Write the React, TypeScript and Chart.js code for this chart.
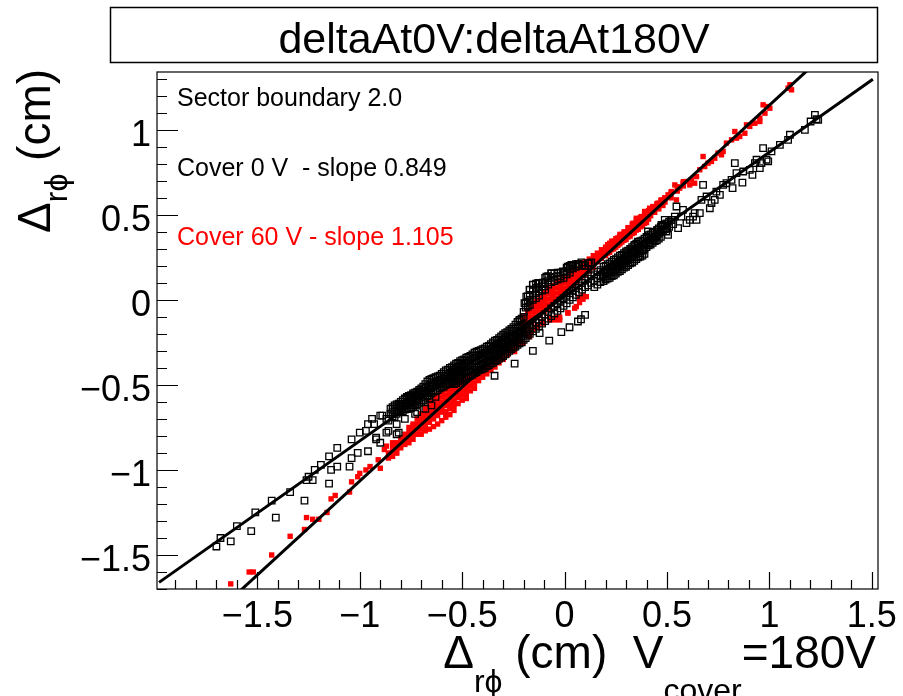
import React, { useEffect, useRef } from "react";
import { Chart, registerables } from "chart.js";

Chart.register(...registerables);

// ---------- axis ranges & ticks ----------
const xMin = -1.99;
const xMax = 1.53;
const yMin = -1.7;
const yMax = 1.34;
const xMajorTicks = [-1.5, -1, -0.5, 0, 0.5, 1, 1.5];
const xTickLabels = ["\u22121.5", "\u22121", "\u22120.5", "0", "0.5", "1", "1.5"];
const yMajorTicks = [-1.5, -1, -0.5, 0, 0.5, 1];
const yTickLabels = ["\u22121.5", "\u22121", "\u22120.5", "0", "0.5", "1"];
const minorStep = 0.1;

// ---------- texts ----------
const titleText = "deltaAt0V:deltaAt180V";
const noteLines = ["Sector boundary 2.0", "Cover 0 V  - slope 0.849", "Cover 60 V - slope 1.105"];
const noteColors = ["#000000", "#000000", "#ff0000"];

// ---------- fits ----------
const fit0 = { slope: 0.849, intercept: 0.02, from: -1.98, to: 1.505 };
const fit60 = { slope: 1.105, intercept: 0.04, from: -1.62, to: 1.22 };

// ---------- Cover 0 V (black open squares) ----------
const cover0Tail: number[][] = [
  [-1.70, -1.45], [-1.68, -1.40], [-1.63, -1.42], [-1.60, -1.33], [-1.53, -1.36], [-1.51, -1.25],
  [-1.43, -1.18], [-1.41, -1.28], [-1.34, -1.13], [-1.27, -1.18], [-1.26, -1.06], [-1.25, -1.04],
  [-1.23, -1.06], [-1.22, -1.00], [-1.19, -0.97], [-1.15, -0.92], [-1.15, -1.08], [-1.14, -1.00],
  [-1.11, -0.87], [-1.11, -0.98], [-1.05, -0.98], [-1.04, -0.82], [-1.04, -0.93], [-1.01, -0.90],
  [-1.00, -0.78], [-0.97, -0.77], [-0.96, -0.89], [-0.96, -0.73], [-0.94, -0.70], [-0.93, -0.73],
  [-0.92, -0.82], [-0.92, -0.81], [-0.90, -0.84], [-0.90, -0.68], [-0.89, -0.68], [-0.87, -0.78],
  [-0.87, -0.70], [-0.86, -0.71], [-0.86, -0.77], [-0.82, -0.79], [-0.82, -0.73], [-0.81, -0.78],
  [-0.82, -0.63], [-0.81, -0.62], [-0.78, -0.70], [-0.78, -0.58], [-0.77, -0.57], [-0.74, -0.56],
  [-0.73, -0.67], [-0.73, -0.57], [-0.72, -0.66], [-0.71, -0.56], [-0.71, -0.54], [-0.69, -0.55],
  [-0.69, -0.59], [-0.68, -0.64], [-0.66, -0.51], [-0.66, -0.58], [-0.65, -0.62], [-0.63, -0.57],
];
const cover0BandCols: number[][] = [
  [-0.85, -0.64, -0.67], [-0.83, -0.62, -0.65, -0.69], [-0.81, -0.61, -0.63, -0.66],
  [-0.79, -0.59, -0.62, -0.655], [-0.77, -0.575, -0.60, -0.64], [-0.75, -0.56, -0.585, -0.61, -0.635],
  [-0.73, -0.545, -0.57, -0.60, -0.62], [-0.71, -0.53, -0.555, -0.58, -0.605],
  [-0.69, -0.51, -0.535, -0.56, -0.59], [-0.67, -0.48, -0.51, -0.54, -0.565],
  [-0.65, -0.465, -0.49, -0.52, -0.55], [-0.63, -0.455, -0.48, -0.505, -0.535],
  [-0.61, -0.445, -0.47, -0.495, -0.52], [-0.59, -0.425, -0.45, -0.48, -0.51],
  [-0.57, -0.41, -0.435, -0.465, -0.495], [-0.55, -0.395, -0.42, -0.45, -0.48],
  [-0.53, -0.375, -0.40, -0.43, -0.465, -0.49], [-0.51, -0.36, -0.385, -0.415, -0.445, -0.475],
  [-0.49, -0.35, -0.375, -0.40, -0.43, -0.46], [-0.47, -0.335, -0.36, -0.39, -0.42, -0.45],
  [-0.45, -0.32, -0.345, -0.375, -0.41, -0.44], [-0.43, -0.305, -0.33, -0.36, -0.395, -0.425],
  [-0.41, -0.295, -0.32, -0.35, -0.38, -0.41], [-0.39, -0.285, -0.31, -0.34, -0.37, -0.40],
  [-0.37, -0.27, -0.295, -0.325, -0.355, -0.385], [-0.35, -0.25, -0.28, -0.31, -0.34, -0.37],
  [-0.33, -0.235, -0.26, -0.29, -0.32, -0.355], [-0.31, -0.215, -0.245, -0.275, -0.305, -0.34],
  [-0.29, -0.195, -0.225, -0.255, -0.29, -0.32], [-0.27, -0.18, -0.21, -0.24, -0.27, -0.30],
  [-0.25, -0.16, -0.19, -0.22, -0.25, -0.28], [-0.23, -0.13, -0.165, -0.20, -0.235, -0.265],
  [-0.21, -0.11, -0.145, -0.18, -0.215, -0.25],
];
const cover0BandCols2: number[][] = [
  [-0.84, -0.63, -0.66, -0.685], [-0.82, -0.615, -0.64, -0.67], [-0.80, -0.60, -0.625, -0.65],
  [-0.78, -0.585, -0.61, -0.645], [-0.76, -0.565, -0.59, -0.62, -0.64], [-0.74, -0.55, -0.575, -0.605, -0.63],
  [-0.72, -0.54, -0.565, -0.59, -0.615], [-0.70, -0.52, -0.545, -0.57, -0.60],
  [-0.68, -0.495, -0.52, -0.55, -0.575], [-0.66, -0.47, -0.50, -0.53, -0.56],
  [-0.64, -0.46, -0.485, -0.51, -0.54], [-0.62, -0.45, -0.475, -0.50, -0.53],
  [-0.60, -0.435, -0.46, -0.49, -0.515], [-0.58, -0.415, -0.445, -0.475, -0.50],
  [-0.56, -0.40, -0.43, -0.46, -0.49], [-0.54, -0.385, -0.41, -0.44, -0.47, -0.495],
  [-0.52, -0.37, -0.395, -0.42, -0.455, -0.48], [-0.50, -0.355, -0.38, -0.41, -0.44, -0.465],
  [-0.48, -0.34, -0.37, -0.395, -0.425, -0.455], [-0.46, -0.33, -0.355, -0.385, -0.415, -0.445],
  [-0.44, -0.31, -0.34, -0.37, -0.40, -0.43], [-0.42, -0.30, -0.325, -0.355, -0.39, -0.415],
  [-0.40, -0.29, -0.315, -0.345, -0.375, -0.405], [-0.38, -0.275, -0.30, -0.33, -0.36, -0.39],
  [-0.36, -0.26, -0.29, -0.32, -0.35, -0.375], [-0.34, -0.24, -0.27, -0.30, -0.33, -0.36],
  [-0.32, -0.225, -0.255, -0.285, -0.315, -0.345], [-0.30, -0.205, -0.235, -0.265, -0.30, -0.33],
  [-0.28, -0.19, -0.215, -0.25, -0.28, -0.31], [-0.26, -0.17, -0.20, -0.23, -0.26, -0.29],
  [-0.24, -0.145, -0.18, -0.21, -0.245, -0.275], [-0.22, -0.12, -0.155, -0.19, -0.225, -0.255],
];
const cover0CenterCols: number[][] = [
  [-0.20, -0.07, -0.10, -0.20, -0.235], [-0.19, -0.02, -0.045, -0.19, -0.225],
  [-0.18, 0.02, -0.01, -0.04, -0.175, -0.21], [-0.17, 0.06, 0.03, 0.0, -0.03, -0.165, -0.20],
  [-0.155, 0.09, 0.06, 0.03, 0.0, -0.15, -0.185], [-0.14, 0.095, 0.07, 0.04, 0.01, -0.135, -0.17],
  [-0.125, 0.10, 0.075, 0.05, 0.025, -0.12, -0.155], [-0.11, 0.10, 0.08, 0.055, -0.10, -0.14],
  [-0.095, 0.13, 0.105, 0.08, 0.06, -0.085, -0.125], [-0.08, 0.14, 0.115, 0.09, -0.07, -0.11],
  [-0.065, 0.155, 0.13, 0.105, -0.05, -0.095], [-0.05, 0.155, 0.135, 0.11, -0.035, -0.08],
  [-0.035, 0.16, 0.14, 0.12, -0.02, -0.065], [-0.02, 0.16, 0.14, 0.125, -0.005, -0.05],
  [-0.005, 0.165, 0.15, 0.13, 0.01, -0.035], [0.01, 0.19, 0.17, 0.15, 0.025, -0.02],
  [0.025, 0.20, 0.18, 0.16, 0.04, 0.0], [0.04, 0.205, 0.185, 0.055, 0.015],
  [0.055, 0.21, 0.195, 0.07, 0.03], [0.07, 0.21, 0.20, 0.085, 0.045], [0.085, 0.205, 0.10, 0.06],
  [0.10, 0.20, 0.115, 0.075], [0.115, 0.215, 0.125, 0.085], [0.13, 0.22, 0.14, 0.10],
  [0.145, 0.15, 0.11, 0.075], [0.16, 0.165, 0.125, 0.09], [0.175, 0.175, 0.14, 0.105],
];
const cover0RightCols: number[][] = [
  [0.19, 0.195, 0.165, 0.135, 0.11], [0.21, 0.21, 0.18, 0.15, 0.125], [0.23, 0.225, 0.195, 0.165, 0.14],
  [0.25, 0.24, 0.21, 0.18, 0.155], [0.27, 0.26, 0.23, 0.20, 0.17], [0.29, 0.275, 0.245, 0.215, 0.19],
  [0.31, 0.29, 0.26, 0.235, 0.205], [0.33, 0.31, 0.28, 0.25, 0.22], [0.35, 0.33, 0.30, 0.27, 0.24],
  [0.37, 0.345, 0.315, 0.285, 0.255], [0.39, 0.36, 0.33, 0.30, 0.27], [0.41, 0.38, 0.35, 0.32],
  [0.43, 0.395, 0.365, 0.335], [0.45, 0.41, 0.38, 0.35], [0.47, 0.43, 0.40, 0.37],
  [0.49, 0.445, 0.415], [0.51, 0.46, 0.43], [0.53, 0.47, 0.445],
];
const cover0RightCols2: number[][] = [
  [0.20, 0.20, 0.17, 0.14, 0.12], [0.22, 0.215, 0.19, 0.16, 0.13], [0.24, 0.235, 0.205, 0.175, 0.145],
  [0.26, 0.25, 0.22, 0.19, 0.165], [0.28, 0.265, 0.235, 0.205, 0.18], [0.30, 0.285, 0.255, 0.225, 0.195],
  [0.32, 0.30, 0.27, 0.24, 0.215], [0.34, 0.32, 0.29, 0.26, 0.23], [0.36, 0.34, 0.305, 0.275, 0.25],
  [0.38, 0.35, 0.32, 0.29, 0.26], [0.40, 0.37, 0.34, 0.31], [0.42, 0.385, 0.355, 0.325],
  [0.44, 0.40, 0.37, 0.345], [0.46, 0.42, 0.39, 0.36], [0.48, 0.435, 0.405], [0.50, 0.45, 0.42],
];
const cover0RightPts: number[][] = [
  [0.187, 0.137], [0.228, 0.167], [0.253, 0.196], [0.285, 0.235], [0.301, 0.275], [0.326, 0.294],
  [0.342, 0.324], [0.358, 0.343], [0.367, 0.275], [0.383, 0.294], [0.407, 0.402], [0.415, 0.333],
  [0.432, 0.353], [0.448, 0.373], [0.456, 0.412], [0.473, 0.441], [0.489, 0.471], [0.497, 0.402],
  [0.505, 0.382], [0.521, 0.471], [0.538, 0.490], [0.546, 0.549], [0.554, 0.422], [0.570, 0.490],
  [0.578, 0.529], [0.595, 0.451], [0.611, 0.471], [0.627, 0.490], [0.635, 0.510], [0.644, 0.471],
  [0.660, 0.510], [0.668, 0.588], [0.676, 0.676], [0.693, 0.608], [0.709, 0.539], [0.717, 0.569],
  [0.733, 0.588], [0.741, 0.637], [0.758, 0.618], [0.774, 0.676], [0.790, 0.686], [0.815, 0.706],
  [0.820, 0.657], [0.831, 0.804], [0.839, 0.745], [0.868, 0.690], [0.872, 0.755], [0.904, 0.765],
  [0.917, 0.735], [0.929, 0.804], [0.937, 0.824], [0.953, 0.775], [0.961, 0.804], [0.969, 0.892],
  [0.986, 0.824], [0.994, 0.814], [1.010, 0.873], [1.051, 0.912], [1.091, 0.941], [1.100, 0.971],
  [1.173, 1.000], [1.201, 1.049], [1.222, 1.088], [1.230, 1.063], [1.238, 1.059],
];
const cover0Outliers: number[][] = [
  [0.10, -0.088], [0.08, -0.114], [0.065, -0.127], [0.024, -0.161], [-0.016, -0.19], [-0.075, -0.24],
  [-0.122, -0.196], [-0.155, -0.30], [-0.244, -0.375], [-0.342, -0.446], [-0.196, -0.019],
  [-0.187, 0.019], [-0.171, 0.059], [-0.155, 0.088], [-0.13, 0.098], [-0.106, 0.102], [-0.089, 0.137],
  [-0.065, 0.157], [-0.033, 0.157], [-0.008, 0.167], [0.016, 0.196], [0.041, 0.206], [0.065, 0.212],
  [0.098, 0.2], [0.122, 0.216], [-0.22, -0.118], [0.033, 0.206], [0.082, 0.22],
];

// ---------- Cover 60 V (red filled squares) ----------
const cover60Tail: number[][] = [
  [-1.63, -1.67], [-1.54, -1.60], [-1.52, -1.60], [-1.43, -1.50], [-1.34, -1.39], [-1.27, -1.35],
  [-1.26, -1.28], [-1.23, -1.29], [-1.20, -1.29], [-1.16, -1.25], [-1.14, -1.17], [-1.12, -1.15],
  [-1.05, -1.13], [-1.04, -1.07], [-1.01, -1.04], [-1.00, -1.02], [-0.97, -1.00], [-0.95, -0.98],
  [-0.91, -0.94], [-0.90, -0.99], [-0.88, -0.88], [-0.87, -0.86], [-0.84, -0.84], [-0.82, -0.90],
  [-0.79, -0.81], [-0.78, -0.83], [-0.74, -0.74], [-0.73, -0.79], [-0.71, -0.72], [-0.69, -0.69],
  [-0.68, -0.75], [-0.65, -0.68], [-0.63, -0.66], [-0.60, -0.65], [-0.58, -0.67], [-0.56, -0.63],
  [-0.54, -0.60], [-0.51, -0.56], [-0.50, -0.53],
];
const cover60BandCols: number[][] = [
  [-0.86, -0.90, -0.93], [-0.84, -0.86, -0.89, -0.92], [-0.82, -0.84, -0.87, -0.90],
  [-0.80, -0.81, -0.84, -0.87], [-0.78, -0.79, -0.82, -0.85], [-0.76, -0.75, -0.78, -0.81, -0.84],
  [-0.74, -0.73, -0.76, -0.79, -0.82], [-0.72, -0.70, -0.73, -0.76, -0.79],
  [-0.70, -0.67, -0.70, -0.73, -0.76, -0.79], [-0.68, -0.64, -0.67, -0.70, -0.73, -0.77],
  [-0.66, -0.60, -0.63, -0.66, -0.69, -0.72, -0.76], [-0.64, -0.58, -0.61, -0.64, -0.67, -0.70, -0.745],
  [-0.62, -0.56, -0.59, -0.62, -0.65, -0.68, -0.73], [-0.60, -0.54, -0.57, -0.60, -0.63, -0.66, -0.71],
  [-0.58, -0.53, -0.56, -0.59, -0.62, -0.655, -0.69], [-0.56, -0.515, -0.545, -0.575, -0.605, -0.64, -0.675],
  [-0.54, -0.50, -0.53, -0.56, -0.59, -0.62, -0.65], [-0.52, -0.485, -0.515, -0.545, -0.575, -0.61],
  [-0.50, -0.47, -0.50, -0.53, -0.56, -0.59], [-0.48, -0.46, -0.49, -0.52, -0.55, -0.58],
  [-0.46, -0.445, -0.475, -0.505, -0.535], [-0.44, -0.43, -0.46, -0.49, -0.52],
  [-0.42, -0.415, -0.445, -0.475], [-0.40, -0.40, -0.43, -0.455], [-0.38, -0.385, -0.41, -0.435],
  [-0.36, -0.365, -0.39, -0.415], [-0.34, -0.345, -0.37, -0.395], [-0.32, -0.32, -0.345, -0.37],
  [-0.30, -0.30, -0.325, -0.35], [-0.28, -0.275, -0.30, -0.325], [-0.26, -0.25, -0.275, -0.30],
  [-0.24, -0.225, -0.25, -0.275], [-0.22, -0.20, -0.225, -0.25],
];
const cover60CenterCols: number[][] = [
  [-0.20, -0.10, -0.13, -0.16, -0.185], [-0.18, -0.07, -0.10, -0.13, -0.16],
  [-0.16, -0.04, -0.07, -0.10, -0.13], [-0.14, -0.01, -0.04, -0.07, -0.10],
  [-0.12, 0.02, -0.01, -0.04, -0.07, -0.09], [-0.10, 0.045, 0.015, -0.015, -0.045, -0.07],
  [-0.08, 0.065, 0.035, 0.005, -0.025, -0.05], [-0.06, 0.085, 0.055, 0.025, -0.005, -0.025],
  [-0.04, 0.10, 0.07, 0.04, 0.01], [-0.02, 0.115, 0.085, 0.055, 0.025], [0.00, 0.13, 0.10, 0.07, 0.045],
  [0.02, 0.15, 0.12, 0.09, 0.065], [0.04, 0.165, 0.135, 0.11, 0.085], [0.06, 0.18, 0.155, 0.13, 0.105],
  [0.08, 0.20, 0.175, 0.15, 0.13], [0.10, 0.225, 0.20, 0.175, 0.15], [0.12, 0.24, 0.215, 0.19, 0.17],
  [0.14, 0.26, 0.235, 0.21, 0.19], [0.16, 0.275, 0.25, 0.225], [0.18, 0.295, 0.27, 0.245],
];
const cover60RightCols: number[][] = [
  [0.20, 0.31, 0.285, 0.26], [0.22, 0.33, 0.305, 0.28], [0.24, 0.345, 0.32, 0.30],
  [0.26, 0.365, 0.34, 0.32], [0.28, 0.385, 0.36, 0.34], [0.30, 0.40, 0.375, 0.355],
  [0.32, 0.42, 0.395, 0.375], [0.34, 0.445, 0.42, 0.395], [0.36, 0.465, 0.44, 0.415],
  [0.38, 0.48, 0.455, 0.435], [0.40, 0.50, 0.475, 0.455], [0.42, 0.52, 0.495], [0.44, 0.54, 0.515],
  [0.46, 0.56, 0.535], [0.48, 0.58, 0.555],
];
const cover60RightCols2: number[][] = [
  [0.21, 0.325, 0.30, 0.275], [0.23, 0.345, 0.32, 0.295], [0.25, 0.36, 0.335, 0.31],
  [0.27, 0.385, 0.36, 0.33], [0.29, 0.40, 0.375, 0.35], [0.31, 0.425, 0.40, 0.37],
  [0.33, 0.445, 0.42, 0.39], [0.35, 0.47, 0.44, 0.41], [0.37, 0.485, 0.46, 0.43],
  [0.39, 0.505, 0.48, 0.45], [0.41, 0.525, 0.50, 0.475], [0.43, 0.545, 0.52], [0.45, 0.565, 0.54],
  [0.47, 0.585, 0.56], [0.49, 0.60, 0.575], [0.52, 0.63, 0.60], [0.55, 0.665, 0.64], [0.58, 0.695, 0.67],
];
const cover60RightPts: number[][] = [
  [0.179, 0.255], [0.204, 0.284], [0.220, 0.333], [0.244, 0.343], [0.269, 0.373], [0.293, 0.392],
  [0.310, 0.422], [0.334, 0.451], [0.350, 0.480], [0.375, 0.490], [0.391, 0.520], [0.415, 0.539],
  [0.432, 0.549], [0.456, 0.569], [0.473, 0.588], [0.489, 0.598], [0.505, 0.618], [0.521, 0.637],
  [0.538, 0.676], [0.546, 0.588], [0.562, 0.657], [0.578, 0.686], [0.595, 0.696], [0.611, 0.676],
  [0.619, 0.706], [0.635, 0.686], [0.644, 0.725], [0.660, 0.765], [0.676, 0.843], [0.684, 0.784],
  [0.700, 0.804], [0.717, 0.814], [0.733, 0.833], [0.749, 0.863], [0.766, 0.853], [0.774, 0.873],
  [0.790, 0.922], [0.815, 0.941], [0.831, 0.990], [0.839, 0.951], [0.855, 0.961], [0.880, 0.980],
  [0.904, 1.020], [0.929, 1.039], [0.953, 1.049], [0.969, 1.147], [0.986, 1.137], [1.002, 1.127],
  [1.100, 1.265], [1.091, 1.245], [1.108, 1.235], [0.888, 1.029], [0.920, 1.039], [0.953, 1.069],
  [0.978, 1.098],
];
const cover60Outliers: number[][] = [
  [0.106, 0.019], [0.09, 0.004], [0.073, -0.016], [0.057, -0.039], [0.016, -0.078], [-0.024, -0.118],
  [-0.041, -0.104], [-0.073, -0.118], [-0.106, -0.127], [-0.13, -0.147], [-0.155, -0.176],
  [-0.171, -0.216], [-0.204, -0.255], [-0.236, -0.275], [0.09, 0.024], [0.073, 0.01], [0.049, -0.049],
  [0.016, -0.075], [-0.024, -0.102], [-0.049, -0.118], [-0.073, -0.108], [-0.106, -0.137],
  [-0.138, -0.161], [-0.163, -0.186], [-0.179, -0.206], [-0.236, -0.259], [-0.244, -0.304],
  [-0.277, -0.271],
];

// ---------- helpers ----------
const FONT = "'Liberation Sans', Arial, Helvetica, 'DejaVu Sans', sans-serif";
const pairs = (arr: number[][]) => arr.map(([x, y]) => ({ x, y }));
const cols = (arr: number[][]) => arr.flatMap(([x, ...ys]) => ys.map((y) => ({ x, y })));
const fitPoints = (f: { slope: number; intercept: number; from: number; to: number }) => [
  { x: f.from, y: f.slope * f.from + f.intercept },
  { x: f.to, y: f.slope * f.to + f.intercept },
];

type Seg = { t: string; size: number; dy?: number };
function segWidth(ctx: CanvasRenderingContext2D, segs: Seg[]) {
  let w = 0;
  for (const s of segs) {
    ctx.font = `${s.size}px ${FONT}`;
    w += ctx.measureText(s.t).width;
  }
  return w;
}
function drawSegs(ctx: CanvasRenderingContext2D, segs: Seg[], x: number, y: number) {
  let cx = x;
  for (const s of segs) {
    ctx.font = `${s.size}px ${FONT}`;
    ctx.fillText(s.t, cx, y + (s.dy || 0));
    cx += ctx.measureText(s.t).width;
  }
}

const rootAxes = {
  id: "rootAxes",
  afterDraw(chart: any) {
    const ctx: CanvasRenderingContext2D = chart.ctx;
    const { left, right, top, bottom } = chart.chartArea;
    const xs = chart.scales.x;
    const ys = chart.scales.y;
    ctx.save();
    ctx.fillStyle = "#000";
    ctx.strokeStyle = "#000";

    // frame
    ctx.lineWidth = 1.2;
    ctx.strokeRect(left, top, right - left, bottom - top);

    // ticks (inward, ROOT style)
    ctx.lineWidth = 1.2;
    ctx.beginPath();
    for (let i = Math.ceil(xMin / minorStep); i <= Math.floor(xMax / minorStep); i++) {
      const v = i * minorStep;
      const px = Math.round(xs.getPixelForValue(v)) + 0.5;
      const major = i % 5 === 0;
      ctx.moveTo(px, bottom);
      ctx.lineTo(px, bottom - (major ? 17 : 9));
    }
    for (let i = Math.ceil(yMin / minorStep); i <= Math.floor(yMax / minorStep); i++) {
      const v = i * minorStep;
      const py = Math.round(ys.getPixelForValue(v)) + 0.5;
      const major = i % 5 === 0;
      ctx.moveTo(left, py);
      ctx.lineTo(left + (major ? 21 : 10), py);
    }
    ctx.stroke();

    // tick labels
    ctx.font = `36px ${FONT}`;
    ctx.textBaseline = "alphabetic";
    ctx.textAlign = "center";
    xMajorTicks.forEach((v, i) => {
      ctx.fillText(xTickLabels[i], xs.getPixelForValue(v), 627);
    });
    ctx.textAlign = "right";
    yMajorTicks.forEach((v, i) => {
      ctx.fillText(yTickLabels[i], 151, ys.getPixelForValue(v) + 16);
    });

    // title box
    ctx.lineWidth = 1.5;
    ctx.strokeRect(110.5, 7.5, 767, 55);
    ctx.font = `43px ${FONT}`;
    ctx.textAlign = "center";
    ctx.fillText(titleText, 494, 53);

    // annotations
    ctx.textAlign = "left";
    ctx.font = `25px ${FONT}`;
    const noteY = [106, 176, 245];
    noteLines.forEach((t, i) => {
      ctx.fillStyle = noteColors[i];
      ctx.fillText(t, 177, noteY[i]);
    });
    ctx.fillStyle = "#000";

    // x title
    const xSegs: Seg[] = [
      { t: "\u0394", size: 46 },
      { t: "r\u03d5", size: 32, dy: 24 },
      { t: " (cm)  V", size: 46 },
      { t: "cover", size: 32, dy: 33 },
      { t: "=180V", size: 46 },
    ];
    const xw = segWidth(ctx, xSegs);
    drawSegs(ctx, xSegs, 876 - xw, 668);

    // y title
    const ySegs: Seg[] = [
      { t: "\u0394", size: 46 },
      { t: "r\u03d5", size: 32, dy: 17 },
      { t: " (cm)", size: 46 },
    ];
    ctx.save();
    ctx.translate(50, 233);
    ctx.rotate(-Math.PI / 2);
    drawSegs(ctx, ySegs, 0, 0);
    ctx.restore();

    ctx.restore();
  },
};

export default function App() {
  const ref = useRef<HTMLCanvasElement | null>(null);
  useEffect(() => {
    if (!ref.current) return;
    const black = [
      ...pairs(cover0Tail),
      ...cols(cover0BandCols),
      ...cols(cover0BandCols2),
      ...cols(cover0CenterCols),
      ...cols(cover0RightCols),
      ...cols(cover0RightCols2),
      ...pairs(cover0RightPts),
      ...pairs(cover0Outliers),
    ];
    const red = [
      ...pairs(cover60Tail),
      ...cols(cover60BandCols),
      ...cols(cover60CenterCols),
      ...cols(cover60RightCols),
      ...cols(cover60RightCols2),
      ...pairs(cover60RightPts),
      ...pairs(cover60Outliers),
    ];
    const chart = new Chart(ref.current, {
      type: "scatter",
      data: {
        datasets: [
          {
            label: "fit 0 V",
            data: fitPoints(fit0),
            showLine: true,
            borderColor: "#000",
            borderWidth: 3,
            pointRadius: 0,
            order: 0,
          } as any,
          {
            label: "fit 60 V",
            data: fitPoints(fit60),
            showLine: true,
            borderColor: "#000",
            borderWidth: 3,
            pointRadius: 0,
            order: 0,
          } as any,
          {
            label: "Cover 0 V",
            data: black,
            pointStyle: "rect",
            pointRadius: 4.6,
            pointBorderWidth: 1.3,
            pointBorderColor: "#000",
            pointBackgroundColor: "rgba(0,0,0,0)",
            order: 1,
          } as any,
          {
            label: "Cover 60 V",
            data: red,
            pointStyle: "rect",
            pointRadius: 3.8,
            pointBorderWidth: 0,
            pointBackgroundColor: "#ff0000",
            order: 2,
          } as any,
        ],
      },
      options: {
        responsive: false,
        animation: false,
        devicePixelRatio: 1,
        events: [],
        layout: { padding: { left: 157, top: 72, right: 25, bottom: 107 } },
        scales: {
          x: { type: "linear", min: xMin, max: xMax, display: false },
          y: { type: "linear", min: yMin, max: yMax, display: false },
        },
        plugins: { legend: { display: false }, tooltip: { enabled: false } },
      },
      plugins: [rootAxes],
    });
    return () => chart.destroy();
  }, []);
  return (
    <div style={{ position: "absolute", left: 0, top: 0, width: 903, height: 696, background: "#fff" }}>
      <canvas ref={ref} width={903} height={696} style={{ display: "block" }} />
    </div>
  );
}
